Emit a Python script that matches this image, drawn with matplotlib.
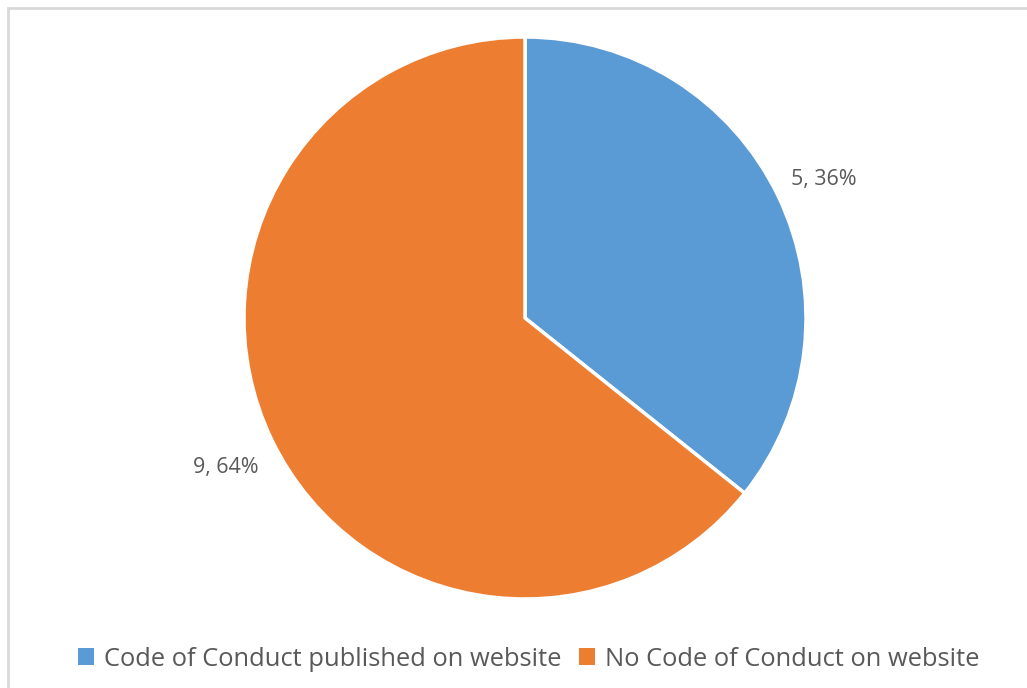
import numpy as np
import matplotlib.pyplot as plt
from matplotlib.patches import Rectangle

categories = ["Code of Conduct published on website", "No Code of Conduct on website"]
counts = [5, 9]
colors = ["#5B9BD5", "#ED7D31"]

plt.rcParams['font.family'] = ['Open Sans', 'DejaVu Sans']
text_color = "#595959"

W, H = 1027, 688
fig = plt.figure(figsize=(W / 100, H / 100), dpi=100)

# light grey chart-area border (runs off the right and bottom edges)
fig.patches.append(Rectangle((8 / W, -0.05), 1.1, 1 - 8 / H + 0.05, transform=fig.transFigure,
                             fill=False, edgecolor="#d9d9d9", linewidth=2))

cx, cy, r = 525, 318, 281
ax = fig.add_axes([(cx - r) / W, (H - cy - r) / H, 2 * r / W, 2 * r / H])
total = sum(counts)
wedges = ax.pie(counts, colors=colors, startangle=90, counterclock=False,
                wedgeprops=dict(edgecolor="white", linewidth=2.5), radius=1)[0]
for w, c in zip(wedges, counts):
    mid = np.deg2rad((w.theta1 + w.theta2) / 2)
    ax.annotate(f"{c}, {round(100 * c / total)}%",
                (1.18 * np.cos(mid), 1.18 * np.sin(mid)),
                xytext=(0, -4), textcoords="offset points", annotation_clip=False,
                ha="center", va="center", fontsize=15.4, color=text_color)
ax.set_xlim(-1, 1)
ax.set_ylim(-1, 1)
ax.set_aspect("equal")
ax.axis("off")

handles = [Rectangle((0, 0), 1, 1, facecolor=c) for c in colors]
fig.legend(handles, categories, loc="center", bbox_to_anchor=(0.515, 1 - 659 / H), ncol=2,
           frameon=False, fontsize=18.4, handlelength=0.6, handleheight=0.6,
           handletextpad=0.4, columnspacing=0.7, labelcolor=text_color)

fig.savefig("out.png", dpi=100)
